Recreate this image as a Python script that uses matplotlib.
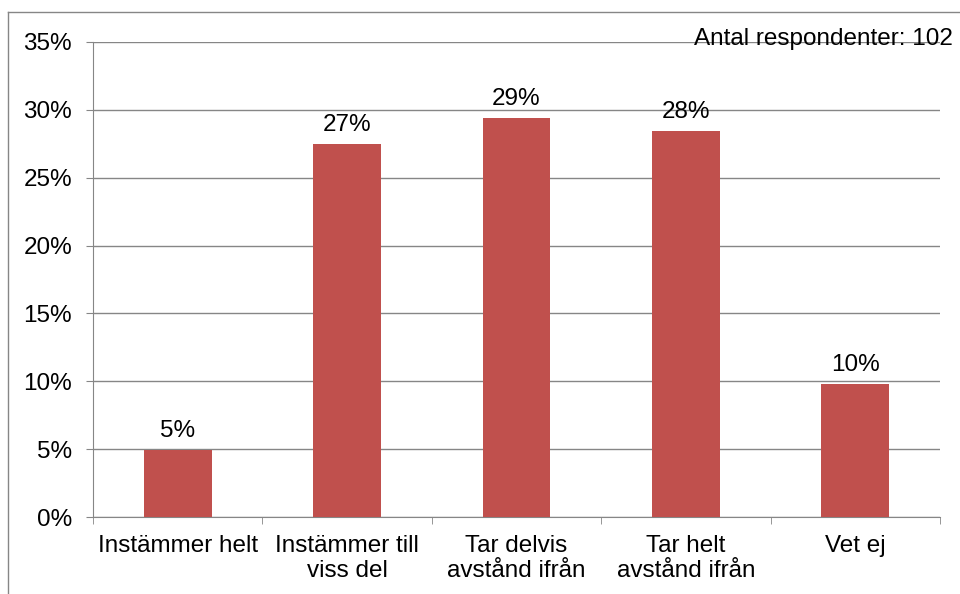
import numpy as np
import matplotlib.pyplot as plt
from matplotlib.lines import Line2D
from matplotlib.ticker import FixedLocator, PercentFormatter

plt.rcParams['font.family'] = ['Liberation Sans', 'DejaVu Sans']

# ======== data ========
categories = ["Instämmer helt", "Instämmer till\nviss del", "Tar delvis\navstånd ifrån",
              "Tar helt\navstånd ifrån", "Vet ej"]
counts = [5, 28, 30, 29, 10]
n_resp = 102
shares = [c / n_resp * 100 for c in counts]
labels = ["5%", "27%", "29%", "28%", "10%"]

grid_col = "#868686"
bar_col = "#C0504D"
fs = 17.5

fig = plt.figure(figsize=(9.6, 5.94), dpi=100)
ax = fig.add_axes([93 / 960, 1 - 517 / 594, 847 / 960, 475 / 594])

x = np.arange(len(categories))
bars = ax.bar(x, shares, width=0.4, color=bar_col, zorder=3)

for b, lab in zip(bars, labels):
    ax.annotate(lab, (b.get_x() + b.get_width() / 2, b.get_height()),
                xytext=(0, 6), textcoords="offset points",
                ha="center", va="bottom", fontsize=fs)

ax.set_xlim(-0.5, len(categories) - 0.5)
ax.set_ylim(0, 35)
ax.set_yticks(np.arange(0, 36, 5))
ax.yaxis.set_major_formatter(PercentFormatter(decimals=0))
ax.grid(axis="y", color=grid_col, lw=1, zorder=0)

ax.set_xticks(x)
ax.set_xticklabels(categories, fontsize=fs, linespacing=1.15)
ax.xaxis.set_minor_locator(FixedLocator(np.arange(-0.5, len(categories), 1)))
ax.tick_params(axis="x", which="major", length=0, pad=13)
ax.tick_params(axis="x", which="minor", length=5, color=grid_col, direction="out")
ax.tick_params(axis="y", length=5, color=grid_col, labelsize=fs, pad=10)

for s in ["top", "right"]:
    ax.spines[s].set_visible(False)
for s in ["left", "bottom"]:
    ax.spines[s].set_color(grid_col)

ax.text(953 / 960, 1 - 45 / 594, f"Antal respondenter: {n_resp}", transform=fig.transFigure,
        ha="right", va="baseline", fontsize=fs)

# outer chart frame
fig.add_artist(Line2D([8 / 960, 8 / 960], [0, 1 - 12 / 594], transform=fig.transFigure,
                      color=grid_col, lw=1))
fig.add_artist(Line2D([8 / 960, 1], [1 - 12 / 594, 1 - 12 / 594], transform=fig.transFigure,
                      color=grid_col, lw=1))

fig.savefig("out.png", dpi=100)
